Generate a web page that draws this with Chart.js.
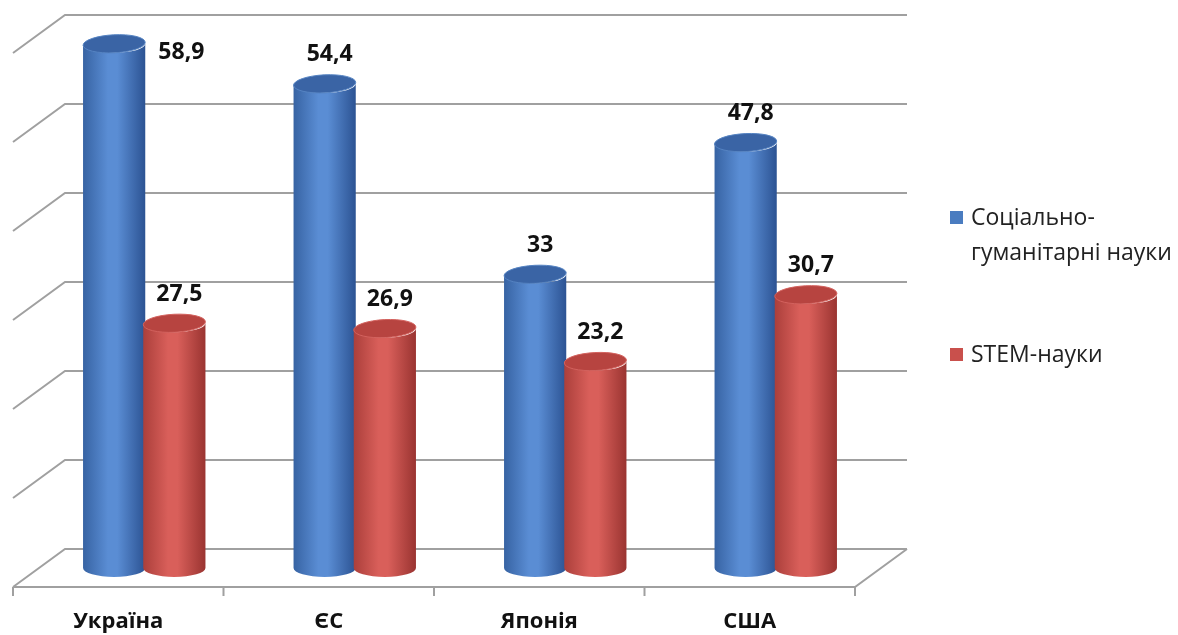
<!DOCTYPE html>
<html lang="uk">
<head>
<meta charset="utf-8">
<title>Соціально-гуманітарні та STEM-науки</title>
<script src="https://cdn.jsdelivr.net/npm/chart.js@4.4.1/dist/chart.umd.min.js"></script>
<style>
  html, body { margin: 0; padding: 0; background: #fff; }
  #wrap { position: relative; width: 1178px; height: 635px; }
</style>
</head>
<body>
<div id="wrap"><canvas id="studies"></canvas></div>
<script>
"use strict";

var countries = ['Україна', 'ЄС', 'Японія', 'США'];
var humanities = [58.9, 54.4, 33, 47.8];
var stem = [27.5, 26.9, 23.2, 30.7];
var seriesNames = [['Соціально-', 'гуманітарні науки'], ['STEM-науки']];
var axisMax = 60;
var axisStep = 10;

// depth of the 3D box: back wall sits half a depth behind the bars, floor edge half a depth in front
var DX = 26, DY = -19;
var FONT = '"Open Sans", "Noto Sans", sans-serif';

var palette = {
	blue: { base: '#4a7cc0', left: '#3763a3', light: '#5a8dd4', right: '#2c5393', top: '#3a64a5', rim: '#5583c2' },
	red:  { base: '#c9504c', left: '#ab3f3b', light: '#d95f5a', right: '#9a3431', top: '#b74440', rim: '#d3625e' }
};

function fmt(v) {
	return String(v).replace('.', ',');
}

// back wall, left wall and floor
var box3d = {
	id: 'box3d',
	beforeDatasetsDraw: function (chart) {
		var ctx = chart.ctx, area = chart.chartArea;
		var y = chart.scales.y;
		ctx.save();
		ctx.strokeStyle = '#a0a0a0';
		ctx.lineWidth = 2;
		ctx.beginPath();
		y.ticks.forEach(function (t) {
			var py = y.getPixelForValue(t.value);
			ctx.moveTo(area.left - DX, py - DY);
			ctx.lineTo(area.left + DX, py + DY);
			ctx.lineTo(area.right + DX, py + DY);
		});
		var base = y.getPixelForValue(0);
		ctx.moveTo(area.left - DX, base - DY);
		ctx.lineTo(area.right - DX, base - DY);
		ctx.lineTo(area.right + DX, base + DY);
		// category ticks along the front edge of the floor
		var n = countries.length;
		for (var i = 0; i <= n; i++) {
			var px = area.left - DX + (area.right - area.left) * i / n;
			ctx.moveTo(px, base - DY);
			ctx.lineTo(px, base - DY + 9);
		}
		ctx.stroke();
		ctx.restore();
	}
};

function drawCylinder(ctx, bar, col) {
	var cx = bar.x, rx = bar.width / 2 + 1, ry = 9;
	var top = bar.y, base = bar.base;
	var g = ctx.createLinearGradient(cx - rx, 0, cx + rx, 0);
	g.addColorStop(0, col.left);
	g.addColorStop(0.4, col.light);
	g.addColorStop(0.55, col.light);
	g.addColorStop(1, col.right);
	ctx.beginPath();
	ctx.moveTo(cx - rx, top);
	ctx.lineTo(cx - rx, base);
	ctx.ellipse(cx, base, rx, ry, 0, Math.PI, 0, true);
	ctx.lineTo(cx + rx, top);
	ctx.ellipse(cx, top, rx, ry, 0, 0, Math.PI, false);
	ctx.closePath();
	ctx.fillStyle = g;
	ctx.fill();

	ctx.beginPath();
	ctx.ellipse(cx, top, rx, ry, -0.05, 0, Math.PI * 2);
	ctx.fillStyle = col.top;
	ctx.fill();
	ctx.lineWidth = 1;
	ctx.strokeStyle = col.rim;
	ctx.stroke();
}

// cylinders in place of flat bars, with value labels
var cylinders = {
	id: 'cylinders',
	beforeDatasetDraw: function () {
		return false;
	},
	afterDatasetsDraw: function (chart) {
		var ctx = chart.ctx, area = chart.chartArea;
		ctx.save();
		for (var i = 0; i < countries.length; i++) {
			chart.data.datasets.forEach(function (ds, d) {
				var bar = chart.getDatasetMeta(d).data[i];
				drawCylinder(ctx, bar, ds.tone);
			});
		}
		ctx.fillStyle = '#111';
		ctx.font = 'bold 23px ' + FONT;
		ctx.textAlign = 'center';
		ctx.textBaseline = 'middle';
		chart.data.datasets.forEach(function (ds, d) {
			chart.getDatasetMeta(d).data.forEach(function (bar, i) {
				var lx = bar.x + 5, ly = bar.y - 29;
				if (ly < area.top + 20) {
					lx = bar.x + bar.width + 7;
					ly = bar.y + 9;
				}
				ctx.fillText(fmt(ds.data[i]), lx, ly);
			});
		});
		ctx.restore();
	}
};

// legend on the right, series names may wrap over two lines
var sideLegend = {
	id: 'sideLegend',
	afterDraw: function (chart) {
		var ctx = chart.ctx;
		var rows = [{ y: 218 }, { y: 355 }];
		ctx.save();
		ctx.font = '23px ' + FONT;
		ctx.textBaseline = 'middle';
		ctx.textAlign = 'left';
		chart.data.datasets.forEach(function (ds, d) {
			var y0 = rows[d].y;
			ctx.fillStyle = ds.backgroundColor;
			ctx.fillRect(950, y0 - 7, 13, 13);
			ctx.fillStyle = '#222';
			seriesNames[d].forEach(function (line, k) {
				ctx.fillText(line, 971, y0 + k * 35);
			});
		});
		ctx.restore();
	}
};

var ctx = document.getElementById('studies').getContext('2d');
var studiesChart = new Chart(ctx, {
	type: 'bar',
	data: {
		labels: countries,
		datasets: [{
			label: seriesNames[0].join(''),
			data: humanities,
			backgroundColor: palette.blue.base,
			tone: palette.blue
		}, {
			label: seriesNames[1].join(''),
			data: stem,
			backgroundColor: palette.red.base,
			tone: palette.red
		}]
	},
	options: {
		responsive: true,
		maintainAspectRatio: false,
		animation: false,
		categoryPercentage: 0.572,
		barPercentage: 1,
		layout: {
			padding: { left: 39, right: 297, top: 34, bottom: 0 }
		},
		scales: {
			x: {
				grid: { display: false, drawTicks: false },
				border: { display: false },
				ticks: {
					padding: 41,
					labelOffset: -DX,
					color: '#111',
					font: { family: FONT, size: 22, weight: 'bold' }
				},
				afterFit: function (scale) {
					scale.height = 67;
				}
			},
			y: {
				display: false,
				min: 0,
				max: axisMax,
				ticks: { stepSize: axisStep }
			}
		},
		plugins: {
			legend: { display: false },
			tooltip: { enabled: false }
		}
	},
	plugins: [box3d, cylinders, sideLegend]
});
</script>
</body>
</html>
